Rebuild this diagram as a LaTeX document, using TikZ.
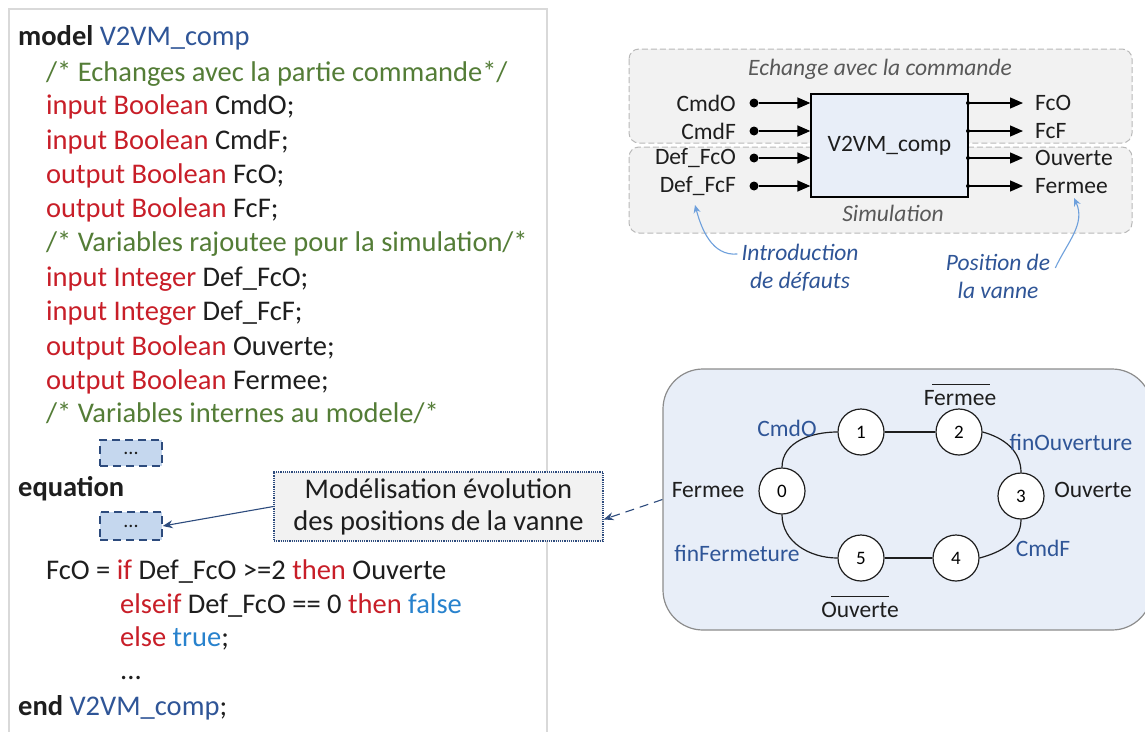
\documentclass[tikz,border=0pt]{standalone}
\usepackage{fontspec}
\setmainfont{Carlito}
\usetikzlibrary{arrows.meta}
\definecolor{kw}{RGB}{200,30,40}
\definecolor{cm}{RGB}{84,125,55}
\definecolor{dblue}{RGB}{47,85,151}
\definecolor{tblue}{RGB}{40,130,205}
\definecolor{txt}{RGB}{30,30,30}
\definecolor{graytxt}{RGB}{89,89,89}
\definecolor{boxfill}{RGB}{232,238,248}
\definecolor{dotfill}{RGB}{197,215,238}
\definecolor{dotedge}{RGB}{45,75,125}
\definecolor{regfill}{RGB}{242,242,242}
\definecolor{regedge}{RGB}{185,185,185}
\definecolor{curvblue}{RGB}{110,160,220}
\definecolor{smedge}{RGB}{140,140,140}
\tikzset{
  code/.style={anchor=base west, inner sep=0pt, font=\fontsize{28.5}{34}\selectfont, text=txt},
  lab/.style={inner sep=0pt, font=\fontsize{23.5}{28}\selectfont, text=txt},
  ital/.style={lab, font=\fontsize{23.5}{28}\selectfont\itshape},
  dotsbox/.style={draw=dotedge, fill=dotfill, line width=1.4pt, dash pattern=on 8pt off 5pt, minimum width=62pt, minimum height=26pt, inner sep=0pt, font=\fontsize{20}{24}\selectfont, text=txt},
  regbox/.style={draw=regedge, fill=regfill, dash pattern=on 6pt off 3pt, line width=1pt, rounded corners=10pt},
  pin/.style={circle, fill=black, inner sep=0pt, minimum size=9pt},
  spin/.style={circle, fill=black, inner sep=0pt, minimum size=4pt},
  sig/.style={line width=1.3pt, -{Triangle[length=13pt,width=11pt]}},
  curv/.style={draw=curvblue, line width=1.1pt, -{Stealth[length=8pt,width=7pt]}},
  state/.style={circle, draw=txt, fill=white, line width=1.2pt, minimum size=46pt, inner sep=0pt, font=\fontsize{19}{22}\selectfont},
  trans/.style={draw=txt, line width=1.2pt},
  smlab/.style={lab, text=dblue},
}
\begin{document}
\begin{tikzpicture}[x=1pt,y=-1pt]
\useasboundingbox (0,0) rectangle (1145,731);
\fill[white] (0,0) rectangle (1145,731);
\begin{scope}
\clip (0,0) rectangle (1145,731);
% code frame
\draw[draw=black!15, line width=1.5pt] (9,740) -- (9,9) -- (547,9) -- (547,740);
\node[code] (l0) at (18,45) {\textbf{model} \textcolor{dblue}{V2VM\_comp}};
\node[code] (l1) at (46,81) {\textcolor{cm}{/* Echanges avec la partie commande*/}};
\node[code] (l2) at (46,114) {\textcolor{kw}{input Boolean} CmdO;};
\node[code] (l3) at (46,149) {\textcolor{kw}{input Boolean} CmdF;};
\node[code] (l4) at (46,183) {\textcolor{kw}{output Boolean} FcO;};
\node[code] (l5) at (46,217) {\textcolor{kw}{output Boolean} FcF;};
\node[code] (l6) at (46,251) {\textcolor{cm}{/* Variables rajoutee pour la simulation/*}};
\node[code] (l7) at (46,286) {\textcolor{kw}{input Integer} Def\_FcO;};
\node[code] (l8) at (46,320) {\textcolor{kw}{input Integer} Def\_FcF;};
\node[code] (l9) at (46,355) {\textcolor{kw}{output Boolean} Ouverte;};
\node[code] (l10) at (46,389) {\textcolor{kw}{output Boolean} Fermee;};
\node[code] (l11) at (46,422) {\textcolor{cm}{/* Variables internes au modele/*}};
\node[dotsbox] (d1) at (131,453) {...};
\node[code] (l12) at (18,496) {\textbf{equation}};
\node[dotsbox, minimum height=28pt] (d2) at (131,526) {...};
\node[code] (l13) at (46,579) {FcO = \textcolor{kw}{if} Def\_FcO >=2 \textcolor{kw}{then} Ouverte};
\node[code] (l14) at (120,613) {\textcolor{kw}{elseif} Def\_FcO == 0 \textcolor{kw}{then} \textcolor{tblue}{false}};
\node[code] (l15) at (120,646) {\textcolor{kw}{else} \textcolor{tblue}{true};};
\node[code] (l16) at (120,679) {...};
\node[code] (l17) at (18,715) {\textbf{end} \textcolor{dblue}{V2VM\_comp};};

% top right block diagram
\draw[regbox] (629,147) rectangle (1132,233);
\draw[regbox] (629,49) rectangle (1132,143);
\node[ital, text=graytxt] (tEch) at (880,69) {Echange avec la commande};
\node[ital, text=graytxt] (tSim) at (893,213) {Simulation};
\node[draw=black, line width=1.3pt, fill=boxfill, minimum width=157pt, minimum height=103pt, inner sep=0pt, font=\fontsize{23.5}{28}\selectfont, text=txt] (blk) at (889.5,145.5) {V2VM\_comp};
\foreach \n/\y/\t in {1/103/CmdO,2/131/CmdF,3/158/Def\_FcO,4/186/Def\_FcF}{
  \node[pin] (i\n) at (754,\y) {};
  \node[lab, anchor=east] (li\n) at (736,\y) {\t};
  \draw[sig] (i\n) -- (blk.west |- i\n);
}
\foreach \n/\y/\t in {1/103/FcO,2/131/FcF,3/158/Ouverte,4/186/Fermee}{
  \node[spin] (o\n) at (968,\y) {};
  \coordinate (oe\n) at (1023,\y);
  \node[lab, anchor=west] (lo\n) at (1035,\y) {\t};
  \draw[sig] (o\n.center) -- (oe\n);
}
\node[ital, text=dblue, align=center] (intro) at (800,268) {Introduction\\de défauts};
\node[ital, text=dblue, align=center] (pos) at (998,276) {Position de\\la vanne};
\coordinate (a1) at (695,205);
\coordinate (a2) at (1074,198);
\draw[curv] ([xshift=-4pt,yshift=14pt]intro.west) to[out=185,in=-75] (a1);
\draw[curv] ([xshift=5pt,yshift=8pt]pos.east) to[out=65,in=-65] (a2);

% state machine
\node[draw=smedge, fill=boxfill, line width=1.2pt, rounded corners=40pt, minimum width=489pt, minimum height=261pt, inner sep=0pt] (sm) at (907.5,499.5) {};
\node[state] (s0) at (782,491) {0};
\node[state] (s1) at (861,432) {1};
\node[state] (s2) at (959,432) {2};
\node[state] (s3) at (1021,496) {3};
\node[state] (s4) at (956,558) {4};
\node[state] (s5) at (861,558) {5};
\draw[trans] (s1) -- (s2);
\draw[trans] (s5) -- (s4);
\draw[trans] (s0.north) to[out=90,in=180] (s1.west);
\draw[trans] (s2.east) to[out=-15,in=90] (s3.north);
\draw[trans] (s3.south) to[out=-90,in=15] (s4.east);
\draw[trans] (s5.west) to[out=180,in=-90] (s0.south);
\node[smlab] (tCmdO) at (787,428) {CmdO};
\node[lab] (tFt) at (960,398) {Fermee};
\draw[txt, line width=1pt] ([xshift=-28pt,yshift=6pt]tFt.north) -- ([xshift=30pt,yshift=6pt]tFt.north);
\node[smlab] (tfinO) at (1071,442) {finOuverture};
\node[lab] (tFl) at (708,490) {Fermee};
\node[lab] (tOr) at (1093,490) {Ouverte};
\node[smlab] (tCmdF) at (1043,548) {CmdF};
\node[smlab] (tfinF) at (737,553) {finFermeture};
\node[lab] (tOb) at (860,610) {Ouverte};
\draw[txt, line width=1pt] ([xshift=-29pt,yshift=6pt]tOb.north) -- ([xshift=29pt,yshift=6pt]tOb.north);

% callout
\node[draw=dotedge, fill=regfill, densely dotted, line width=1.2pt, minimum width=329pt, minimum height=69pt, inner sep=0pt, align=center, font=\fontsize{28.5}{32}\selectfont, text=txt] (call) at (438.5,506.5) {Modélisation évolution\\des positions de la vanne};
\draw[dotedge, line width=1.1pt, -{Stealth[length=10pt,width=8pt]}] (call.west) -- (d2.east);
\draw[dotedge, line width=1.1pt, dash pattern=on 9pt off 6pt, -{Stealth[length=10pt,width=8pt]}] (sm.west) -- ([yshift=-13pt]call.east);
\end{scope}
\end{tikzpicture}
\end{document}
